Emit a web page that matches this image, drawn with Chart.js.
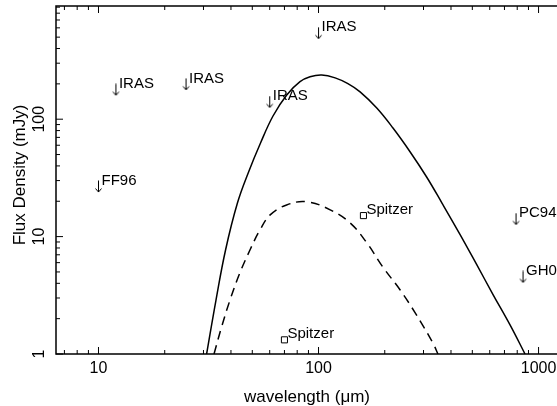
<!DOCTYPE html>
<html>
<head>
<meta charset="utf-8">
<script src="https://cdn.jsdelivr.net/npm/chart.js@4.4.1/dist/chart.umd.min.js"></script>
<style>
  html, body { margin: 0; padding: 0; background: #fff; overflow: hidden; }
  canvas { display: block; }
</style>
</head>
<body>
<canvas id="sed" width="557" height="406"></canvas>
<script>
// model curves (wavelength in micron, flux in mJy)
const solidWave = [31.0, 34.2, 37.8, 42.8, 48.1, 54.5, 62.1, 71.7, 82.4, 91.5, 103.4, 119, 136, 154.5, 184, 218, 261, 310, 364, 440, 523, 621, 742, 868];
const solidFlux = [1.0, 2.88, 7.69, 19.3, 35.5, 62.7, 106.5, 161, 209, 230, 238, 225, 201, 171, 124.5, 84.1, 52.6, 32.2, 19.3, 10.4, 5.79, 3.21, 1.77, 1.0];
const dashWave = [33.5, 36.3, 39.6, 43.9, 48.8, 54.2, 60.3, 71.6, 88.4, 113, 139, 166, 196, 235, 275, 331, 349];
const dashFlux = [1.0, 1.71, 2.88, 4.9, 7.69, 11.4, 15.3, 18.6, 19.8, 16.9, 13.1, 8.82, 5.51, 3.51, 2.24, 1.24, 1.0];

// upper limits
const limitWave = [10, 12, 25, 60, 100, 790, 850];
const limitFlux = [26.7, 178, 198, 140, 541, 14.1, 4.53];
const limitLabels = ['FF96', 'IRAS', 'IRAS', 'IRAS', 'IRAS', 'PC94', 'GH00'];

// detections
const spitzerWave = [70, 160];
const spitzerFlux = [1.32, 15.1];
const spitzerLabels = ['Spitzer', 'Spitzer'];

const xTickLabels = [10, 100, 1000];
const yTickLabels = [1, 10, 100];

const FONT = '"Liberation Sans", Arial, sans-serif';

function pairs(xs, ys) {
  return xs.map((v, i) => ({ x: v, y: ys[i] }));
}

// down arrow used as point style for the limits
const arrow = document.createElement('canvas');
arrow.width = 9;
arrow.height = 13;
(function () {
  const c = arrow.getContext('2d');
  c.strokeStyle = '#000';
  c.lineWidth = 1;
  c.beginPath();
  c.moveTo(4.5, 0.5); c.lineTo(4.5, 12);
  c.moveTo(1.5, 8.5); c.lineTo(4.5, 12); c.lineTo(7.5, 8.5);
  c.stroke();
})();

const whiteBg = {
  id: 'whiteBg',
  beforeDraw(chart) {
    const ctx = chart.ctx;
    ctx.save();
    ctx.fillStyle = '#fff';
    ctx.fillRect(0, 0, chart.width, chart.height);
    ctx.restore();
  }
};

const frame = {
  id: 'frame',
  afterDatasetsDraw(chart) {
    const { ctx, chartArea: a, scales: { x, y } } = chart;
    ctx.save();
    ctx.strokeStyle = '#000';
    ctx.lineWidth = 1.5;
    ctx.beginPath();
    ctx.moveTo(a.right + 5, a.top);
    ctx.lineTo(a.left, a.top);
    ctx.lineTo(a.left, a.bottom);
    ctx.lineTo(a.right + 5, a.bottom);
    ctx.stroke();

    ctx.lineWidth = 1;
    ctx.beginPath();
    for (let d = 0; d <= 3; d++) {
      for (let m = 1; m <= 9; m++) {
        const v = m * Math.pow(10, d);
        const len = m === 1 ? 7 : 4;
        if (v >= x.min && v <= x.max) {
          const px = x.getPixelForValue(v);
          ctx.moveTo(px, a.bottom); ctx.lineTo(px, a.bottom - len);
          ctx.moveTo(px, a.top); ctx.lineTo(px, a.top + len);
        }
        if (v >= y.min && v <= y.max) {
          const py = y.getPixelForValue(v);
          ctx.moveTo(a.left, py); ctx.lineTo(a.left + len, py);
        }
      }
    }
    ctx.stroke();

    // tick labels
    ctx.fillStyle = '#000';
    ctx.font = '16px ' + FONT;
    ctx.textAlign = 'center';
    ctx.textBaseline = 'alphabetic';
    xTickLabels.forEach(v => {
      ctx.fillText(String(v), x.getPixelForValue(v), a.bottom + 19);
    });
    yTickLabels.forEach(v => {
      ctx.save();
      ctx.translate(a.left - 12, y.getPixelForValue(v));
      ctx.rotate(-Math.PI / 2);
      ctx.fillText(String(v), 0, 0);
      ctx.restore();
    });

    // axis titles
    ctx.font = '17px ' + FONT;
    ctx.fillText('wavelength (\u03bcm)', 307, 402);
    ctx.save();
    ctx.translate(25, 175);
    ctx.rotate(-Math.PI / 2);
    ctx.fillText('Flux Density (mJy)', 0, 0);
    ctx.restore();

    // point labels
    ctx.font = '15px ' + FONT;
    ctx.textAlign = 'left';
    ctx.textBaseline = 'middle';
    limitWave.forEach((w, i) => {
      const px = x.getPixelForValue(w);
      const py = y.getPixelForValue(limitFlux[i]);
      ctx.fillText(limitLabels[i], px + 3, py - 6);
    });
    spitzerWave.forEach((w, i) => {
      const px = x.getPixelForValue(w);
      const py = y.getPixelForValue(spitzerFlux[i]);
      ctx.fillText(spitzerLabels[i], px + 3, py - 6);
    });
    ctx.restore();
  }
};

new Chart(document.getElementById('sed'), {
  type: 'scatter',
  data: {
    datasets: [
      {
        label: 'model',
        data: pairs(solidWave, solidFlux),
        showLine: true,
        borderColor: '#000',
        borderWidth: 1.5,
        pointRadius: 0,
        tension: 0.4
      },
      {
        label: 'cold component',
        data: pairs(dashWave, dashFlux),
        showLine: true,
        borderColor: '#000',
        borderWidth: 1.5,
        borderDash: [9, 6],
        pointRadius: 0,
        tension: 0.4
      },
      {
        label: 'upper limits',
        data: pairs(limitWave, limitFlux),
        pointStyle: arrow,
        pointRadius: 6
      },
      {
        label: 'Spitzer',
        data: pairs(spitzerWave, spitzerFlux),
        pointStyle: 'rect',
        pointRadius: 4.3,
        borderColor: '#000',
        borderWidth: 1,
        backgroundColor: 'rgba(0,0,0,0)'
      }
    ]
  },
  options: {
    responsive: false,
    animation: false,
    events: [],
    layout: { autoPadding: false, padding: { left: 56, top: 6, right: 0, bottom: 52 } },
    plugins: { legend: { display: false }, tooltip: { enabled: false } },
    scales: {
      x: { type: 'logarithmic', display: false, min: 6.41, max: 1213 },
      y: { type: 'logarithmic', display: false, min: 1, max: 921 }
    }
  },
  plugins: [whiteBg, frame]
});
</script>
</body>
</html>
